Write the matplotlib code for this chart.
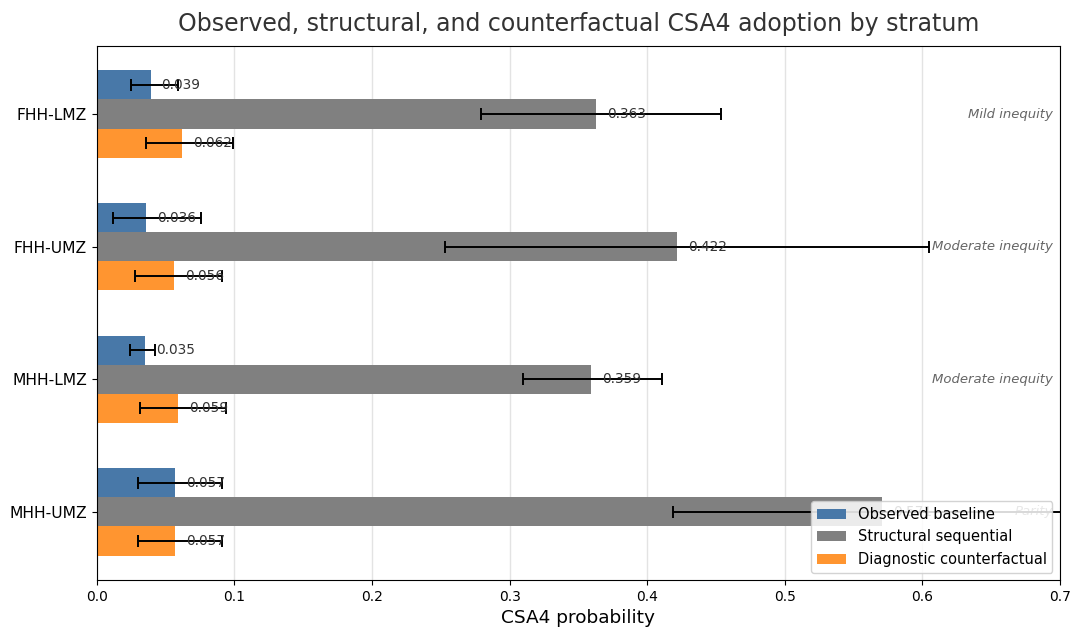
import numpy as np
import matplotlib.pyplot as plt

# ----------------------------------------------------------------------
# Data
# ----------------------------------------------------------------------
strata = ["FHH-LMZ", "FHH-UMZ", "MHH-LMZ", "MHH-UMZ"]

observed = [0.039, 0.036, 0.035, 0.057]
observed_lo = [0.025, 0.012, 0.024, 0.030]
observed_hi = [0.059, 0.076, 0.042, 0.091]

structural = [0.363, 0.422, 0.359, 0.571]
structural_lo = [0.279, 0.253, 0.310, 0.419]
structural_hi = [0.454, 0.605, 0.411, 0.760]

counterfactual = [0.062, 0.056, 0.059, 0.057]
counterfactual_lo = [0.036, 0.028, 0.031, 0.030]
counterfactual_hi = [0.099, 0.091, 0.094, 0.091]

equity_labels = ["Mild inequity", "Moderate inequity", "Moderate inequity", "Parity"]

series = [
    ("Observed baseline", observed, observed_lo, observed_hi, "#4878A8"),
    ("Structural sequential", structural, structural_lo, structural_hi, "#808080"),
    ("Diagnostic counterfactual", counterfactual, counterfactual_lo, counterfactual_hi, "#FF9530"),
]

# ----------------------------------------------------------------------
# Plot
# ----------------------------------------------------------------------
fig, ax = plt.subplots(figsize=(10.77, 6.31), dpi=100)
fig.subplots_adjust(left=0.09, right=0.984, top=0.927, bottom=0.081)

y = np.arange(len(strata))
h = 0.22
offsets = [-h, 0, h]

for (name, vals, lo, hi, color), off in zip(series, offsets):
    vals = np.array(vals)
    err = np.array([vals - np.array(lo), np.array(hi) - vals])
    ax.barh(y + off, vals, height=h, color=color, label=name, zorder=2)
    ax.errorbar(vals, y + off, xerr=err, fmt="none", ecolor="black",
                elinewidth=1.4, capsize=4, capthick=1.4, zorder=3)
    for yi, v in zip(y + off, vals):
        ax.text(v + 0.008, yi, f"{v:.3f}", va="center", ha="left",
                fontsize=9.8, color="#333333", zorder=4)

for yi, lab in zip(y, equity_labels):
    ax.text(0.695, yi, lab, va="center", ha="right", fontsize=9.5,
            style="italic", color="#666666", zorder=1)

ax.set_yticks(y)
ax.set_yticklabels(strata, fontsize=11.2)
ax.invert_yaxis()
ax.set_xlim(0, 0.7)
ax.tick_params(axis="x", labelsize=10)
ax.xaxis.grid(True, color="#e3e3e3", linewidth=1, zorder=0)
ax.set_axisbelow(True)

ax.set_xlabel("CSA4 probability", fontsize=13.3)
ax.set_title("Observed, structural, and counterfactual CSA4 adoption by stratum",
             fontsize=17, color="#333333", pad=11)
ax.legend(loc="lower right", fontsize=10.5, framealpha=0.85)

plt.savefig("out.png", dpi=100)
